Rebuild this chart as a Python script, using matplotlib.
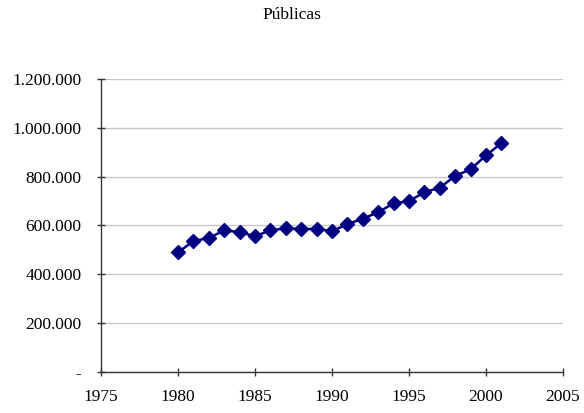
import matplotlib.pyplot as plt
from matplotlib.ticker import FuncFormatter

# Públicas series
years = [1980, 1981, 1982, 1983, 1984, 1985, 1986, 1987, 1988, 1989, 1990,
         1991, 1992, 1993, 1994, 1995, 1996, 1997, 1998, 1999, 2000, 2001]
publicas = [490000, 536000, 549000, 580000, 573000, 556000, 580000, 588000,
            586000, 586000, 577000, 605000, 628000, 654000, 691000, 700000,
            736000, 755000, 803000, 830000, 887000, 937000]

x_ticks = [1975, 1980, 1985, 1990, 1995, 2000, 2005]
y_ticks = [0, 200000, 400000, 600000, 800000, 1000000, 1200000]

plt.rcParams['font.family'] = ['Liberation Serif', 'DejaVu Serif']


def fmt_thousands(v, pos):
    if v == 0:
        return '-'
    return f'{int(v):,}'.replace(',', '.')


fig = plt.figure(figsize=(5.84, 4.13), dpi=100)
ax = fig.add_axes([0.173, 0.0993, 0.791, 0.7094])

ax.plot(years, publicas, color='#000080', linewidth=1.8,
        marker='D', markersize=7.2, markeredgecolor='#000080',
        markerfacecolor='#000080')

ax.set_xlim(1975, 2005)
ax.set_ylim(0, 1200000)
ax.set_xticks(x_ticks)
ax.set_yticks(y_ticks)
ax.yaxis.set_major_formatter(FuncFormatter(fmt_thousands))

ax.grid(True, axis='y', color='#c8c8c8', linewidth=1.0)
ax.set_axisbelow(True)
for side in ['top', 'right']:
    ax.spines[side].set_visible(False)
for side in ['left', 'bottom']:
    ax.spines[side].set_color('#333333')
    ax.spines[side].set_linewidth(1.0)
ax.tick_params(direction='inout', length=6, width=1, color='#333333',
               labelsize=12.5)
ax.tick_params(axis='x', pad=9)
ax.tick_params(axis='y', pad=11)

fig.text(0.5, 0.963, 'Públicas', ha='center', va='center', fontsize=12.5)

fig.savefig('out.png', dpi=100)
